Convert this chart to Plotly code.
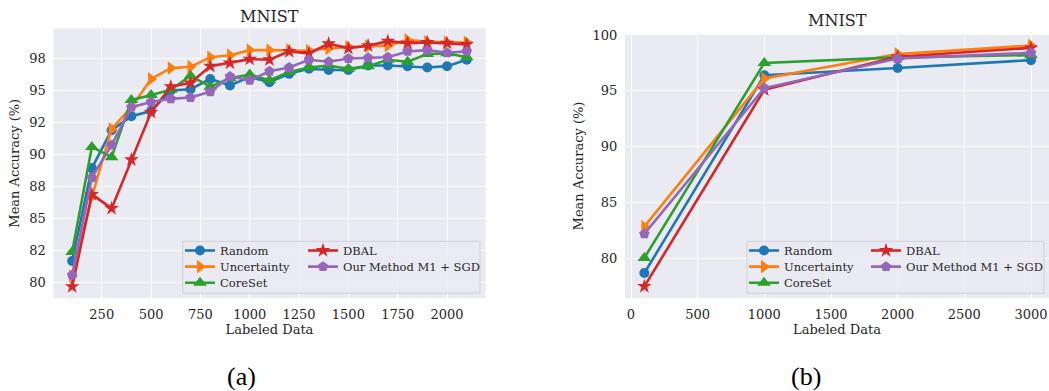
import plotly.graph_objects as go

# ---- data -------------------------------------------------------------
methods = ["Random", "Uncertainty", "CoreSet", "DBAL", "Our Method M1 + SGD"]

# panel (a): labeled-set sizes 100..2100
labeled_a = [100, 200, 300, 400, 500, 600, 700, 800, 900, 1000, 1100,
             1200, 1300, 1400, 1500, 1600, 1700, 1800, 1900, 2000, 2100]
random_a = [81.7, 88.95, 91.9, 93.0, 93.4, 95.0, 95.1, 95.9, 95.4, 96.05, 95.65,
            96.3, 96.7, 96.6, 96.6, 96.95, 96.95, 96.9, 96.8, 96.9, 97.4]
uncertainty_a = [80.5, 86.7, 92.0, 93.7, 95.9, 96.75, 96.85, 97.6, 97.75, 98.15, 98.15,
                 98.15, 98.1, 98.3, 98.4, 98.45, 98.5, 98.95, 98.8, 98.75, 98.75]
coreset_a = [82.4, 90.6, 89.8, 94.25, 94.65, 95.05, 96.15, 95.3, 95.95, 96.25, 95.8,
             96.45, 96.8, 96.95, 96.7, 96.9, 97.4, 97.25, 97.85, 97.9, 97.6]
dbal_a = [79.7, 86.9, 85.8, 89.6, 93.3, 95.3, 95.6, 96.9, 97.15, 97.45, 97.4,
          98.05, 97.9, 98.65, 98.3, 98.5, 98.85, 98.7, 98.75, 98.7, 98.6]
ours_a = [80.6, 88.2, 90.75, 93.7, 94.1, 94.35, 94.45, 94.9, 96.1, 95.8, 96.5,
          96.8, 97.4, 97.25, 97.5, 97.55, 97.6, 98.05, 98.15, 97.95, 98.05]

# panel (b): coarse labeled-set sizes
labeled_b = [100, 1000, 2000, 3000]
random_b = [78.7, 96.4, 97.05, 97.75]
uncertainty_b = [82.85, 96.1, 98.3, 99.05]
coreset_b = [80.05, 97.5, 98.0, 98.2]
dbal_b = [77.5, 95.1, 98.05, 98.85]
ours_b = [82.2, 95.25, 97.9, 98.4]

# tick labels
xticks_a = [250, 500, 750, 1000, 1250, 1500, 1750, 2000]
yticks_a = [80, 82.5, 85, 87.5, 90, 92.5, 95, 97.5]
yticktext_a = ["80", "82", "85", "88", "90", "92", "95", "98"]
xticks_b = [0, 500, 1000, 1500, 2000, 2500, 3000]
yticks_b = [80, 85, 90, 95, 100]

# ---- style ------------------------------------------------------------
W, H = 1049, 391
colors = ["#1f77b4", "#ff7f0e", "#2ca02c", "#d62728", "#9467bd"]
symbols = ["circle", "triangle-right", "triangle-up", "star", "pentagon"]
msizes = [10, 12, 12, 11, 11]
FONT = "DejaVu Serif"
TXT = "#262626"
BG = "#EAEAF2"


def px(v):
    return v / W


def py(v):
    return 1 - v / H


series_a = [random_a, uncertainty_a, coreset_a, dbal_a, ours_a]
series_b = [random_b, uncertainty_b, coreset_b, dbal_b, ours_b]

fig = go.Figure()
legends = {}

# legend layout: two columns (3 + 2 entries), one small legend per entry
rows_y = [248.3, 264.7, 281.0]
col_x_a = [185, 308]
col_x_b = [749, 871]


def add_panel(xs, ys_list, xaxis, yaxis, col_x, offset):
    for i, (name, ys) in enumerate(zip(methods, ys_list)):
        key = "legend" if offset + i == 0 else f"legend{offset + i + 1}"
        fig.add_trace(go.Scatter(
            x=xs, y=ys, name=name, mode="lines+markers",
            xaxis=xaxis, yaxis=yaxis, legend=key,
            line=dict(color=colors[i], width=2.6),
            marker=dict(symbol=symbols[i], size=msizes[i], color=colors[i],
                        line=dict(width=0)),
        ))
        col, row = (0, i) if i < 3 else (1, i - 3)
        legends[key] = dict(
            x=px(col_x[col] - 5), y=py(rows_y[row]), xanchor="left", yanchor="middle",
            bgcolor="rgba(0,0,0,0)", borderwidth=0,
            font=dict(family=FONT, size=11.5, color=TXT),
            itemwidth=30,
        )


add_panel(labeled_a, series_a, "x", "y", col_x_a, 0)
add_panel(labeled_b, series_b, "x2", "y2", col_x_b, 5)

axis_common = dict(
    showgrid=True, gridcolor="white", gridwidth=1, zeroline=False,
    showline=False, ticks="outside", ticklen=4, tickcolor="rgba(0,0,0,0)",
    tickfont=dict(family=FONT, size=13, color=TXT),
)

fig.update_layout(
    width=W, height=H, margin=dict(l=0, r=0, t=0, b=0),
    paper_bgcolor="white", plot_bgcolor=BG, showlegend=True,
    xaxis=dict(axis_common, domain=[px(53.4), px(485.5)], range=[5, 2195],
               tickvals=xticks_a, anchor="y",
               title=dict(text="Labeled Data", standoff=4,
                          font=dict(family=FONT, size=13, color=TXT))),
    yaxis=dict(axis_common, domain=[py(296.7), py(22.7)], range=[78.8, 99.85],
               tickvals=yticks_a, ticktext=yticktext_a, anchor="x",
               title=dict(text="Mean Accuracy (%)", standoff=6,
                          font=dict(family=FONT, size=13, color=TXT))),
    xaxis2=dict(axis_common, domain=[px(625), 1.0], range=[-45, 3135],
                tickvals=xticks_b, anchor="y2",
                title=dict(text="Labeled Data", standoff=4,
                           font=dict(family=FONT, size=13, color=TXT))),
    yaxis2=dict(axis_common, domain=[py(296.7), py(28.3)], range=[76.45, 100.1],
                tickvals=yticks_b, anchor="x2",
                title=dict(text="Mean Accuracy (%)", standoff=6,
                           font=dict(family=FONT, size=13, color=TXT))),
    **legends,
)

# legend frames
for x0, x1 in [(182.7, 480), (747, 1044)]:
    fig.add_shape(type="rect", xref="paper", yref="paper",
                  x0=px(x0), x1=px(x1), y0=py(291.7), y1=py(239),
                  fillcolor="rgba(234,234,242,0.85)",
                  line=dict(color="#cfcfd6", width=1), layer="above")

# panel titles and captions
for xc, yc in [(269.5, 10.5), (837.5, 14.5)]:
    fig.add_annotation(text="MNIST", x=px(xc), y=py(yc), xref="paper", yref="paper",
                       showarrow=False, xanchor="center", yanchor="middle",
                       font=dict(family=FONT, size=16, color=TXT))
for label, xc in [("(a)", 241), ("(b)", 806)]:
    fig.add_annotation(text=label, x=px(xc), y=py(376), xref="paper", yref="paper",
                       showarrow=False, xanchor="center", yanchor="middle",
                       font=dict(family="Liberation Serif", size=26, color="black"))

fig.write_html("out.html")
